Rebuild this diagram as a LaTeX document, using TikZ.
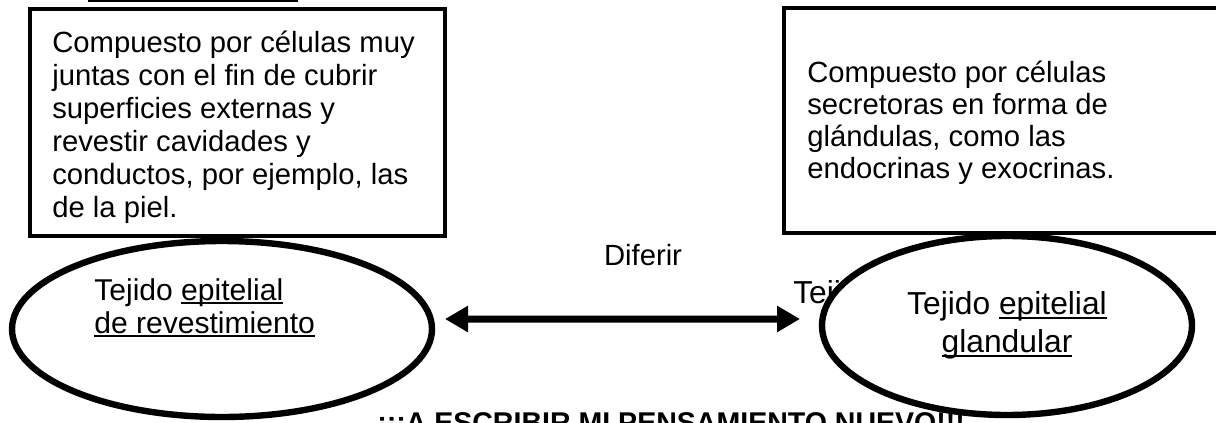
\documentclass[tikz,border=0pt]{standalone}
\usepackage{fontspec}
\setmainfont{Liberation Sans}
\usepackage{tikz}
\usetikzlibrary{shapes.geometric,arrows.meta}

\newcommand{\undl}[1]{\setbox0\hbox{#1}\rlap{\rule[-0.13em]{\wd0}{0.07em}}#1}

\begin{document}
\begin{tikzpicture}[
	textbox/.style = {draw=black, line width=0.1cm},
	oval/.style    = {ellipse, draw=black, fill=white, line width=0.16cm, inner sep=0pt, outer sep=0pt},
	bodytext/.style= {inner sep=0pt, anchor=north west, align=left, font=\fontsize{20.8}{23.5}\selectfont},
	bigtext/.style = {font=\fontsize{22.6}{27}\selectfont},
	twoway/.style  = {{Triangle[length=0.575cm,width=0.625cm]}-{Triangle[length=0.575cm,width=0.625cm]}, line width=0.175cm}
	]
	\useasboundingbox (0,0) rectangle (30.4,10.55);

	%% Draw boxes
	\draw[textbox] (0.75,10.325) rectangle (11.125,4.65);
	\draw[textbox] (19.6,10.35) rectangle (30.75,4.725);
	\draw[line width=0.05cm] (2.2,10.525) -- (7.45,10.525);

	%% Draw text in boxes
	\node[bodytext] (revtext) at (1.3,9.78) {Compuesto por células muy\\juntas con el fin de cubrir\\superficies externas y\\revestir cavidades y\\conductos, por ejemplo, las\\de la piel.};
	\node[bodytext, font=\fontsize{20.8}{22.8}\selectfont] (glantext) at (20.175,9.03) {Compuesto por células\\secretoras en forma de\\glándulas, como las\\endocrinas y exocrinas.};

	%% Draw loose text
	\node[font=\fontsize{20.8}{23.5}\selectfont] (diferir) at (16.075,4.175) {Diferir};
	\node[bodytext, bigtext] (hidden) at (19.825,3.55) {Tejido};
	\node[anchor=base west, inner sep=0pt, font=\bfseries\fontsize{20.3}{24}\selectfont] (slogan) at (9.425,-0.25) {¡¡¡A ESCRIBIR MI PENSAMIENTO NUEVO!!!};

	%% Draw ovals
	\node[oval, minimum width=10.5cm, minimum height=4.4cm] (revoval) at (5.55,2.325) {};
	\node[oval, bigtext, align=center, minimum width=9.25cm, minimum height=4.475cm] (glanoval) at (25.175,2.4125) {Tejido \undl{epitelial}\\\undl{glandular}};
	\node[bodytext, font=\fontsize{21.4}{23.5}\selectfont] (revname) at (2.35,3.6) {Tejido \undl{epitelial}\\\undl{de revestimiento}};

	%% Draw arrow
	\draw[twoway] ([xshift=0.325cm,yshift=0.25cm]revoval.east) -- ([xshift=-0.55cm,yshift=0.1625cm]glanoval.west);
\end{tikzpicture}
\end{document}
